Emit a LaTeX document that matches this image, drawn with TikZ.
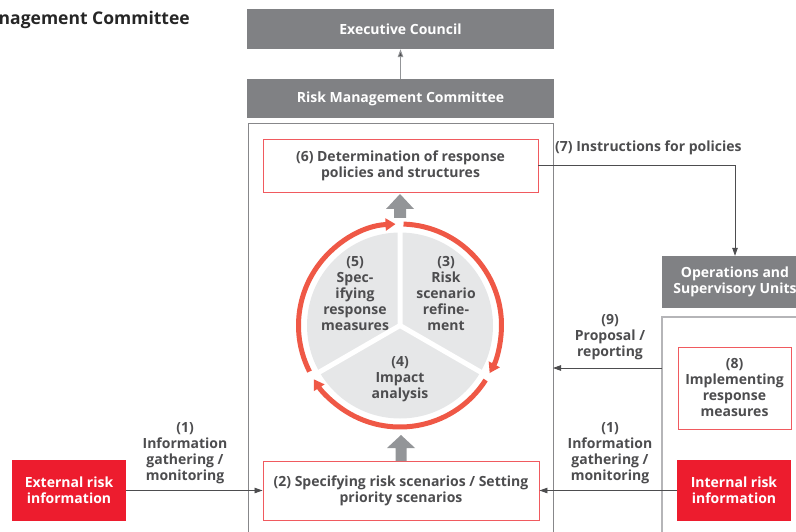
\documentclass[tikz,border=0pt]{standalone}
\usepackage{fontspec}
\setmainfont{Open Sans}
\usetikzlibrary{arrows.meta}
\definecolor{txt}{HTML}{4D4D4F}
\definecolor{boxgray}{HTML}{808184}
\definecolor{rred}{HTML}{ED1C2E}
\definecolor{ringc}{HTML}{EF5846}
\definecolor{wedgec}{HTML}{E6E7E8}
\definecolor{framec}{HTML}{87878A}
\definecolor{rframec}{HTML}{B5B5B8}
\definecolor{bord}{HTML}{F05A5F}
\definecolor{thick}{HTML}{939598}
\begin{document}
\begin{tikzpicture}[x=1pt,y=-1pt,
  fnt/.style={font=\fontsize{14}{16}\selectfont\bfseries},
  lbl/.style={fnt, text=txt, align=center, inner sep=0pt},
  graybox/.style={fnt, fill=boxgray, text=white, align=center, inner sep=0pt},
  redbox/.style={fnt, fill=rred, text=white, align=center, inner sep=0pt},
  linebox/.style={fnt, draw=bord, line width=0.9pt, fill=white, text=txt, align=center, inner sep=0pt},
  conn/.style={draw=txt, line width=0.8pt, -{Triangle[length=8pt,width=5.5pt]}},
  ringarc/.style={draw=ringc, line width=5pt, -{Triangle[length=10pt,width=12pt]}},
  bigarrow/.style={fill=thick, draw=none}
]
\useasboundingbox (0,0) rectangle (796,532);
% title
\node[anchor=east, inner sep=0pt, text=black!85, font=\fontsize{17.5}{20}\selectfont\bfseries] (title) at (190,20) {Risk Management Committee};
% top boxes
\node[graybox, minimum width=307pt, minimum height=40pt] (ec) at (400.5,29) {Executive Council};
\node[graybox, minimum width=307pt, minimum height=39pt] (rmc) at (400.5,98.5) {Risk Management Committee};
\draw[draw=thick, line width=1pt, -{Triangle[length=8pt,width=5.5pt,fill=txt]}] (rmc.north) -- (ec.south);
% main frame
\draw[framec, line width=1pt] (248,124) rectangle (553,545);
% right frame
\draw[rframec, line width=1.3pt] (662,317) rectangle (820,545);
% boxes
\node[linebox, minimum width=275pt, minimum height=53pt] (b6) at (400.5,165.5) {(6) Determination of response\\policies and structures};
\node[linebox, minimum width=276pt, minimum height=59pt] (b2) at (401,490.5) {(2) Specifying risk scenarios / Setting\\priority scenarios};
\node[redbox, minimum width=114pt, minimum height=61pt] (ext) at (69,490.5) {External risk\\information};
\node[redbox, minimum width=114pt, minimum height=61pt] (int) at (734,490.5) {Internal risk\\information};
\node[linebox, minimum width=113pt, minimum height=82pt] (b8) at (734.5,388) {(8)\\Implementing\\response\\measures};
\node[graybox, minimum width=146pt, minimum height=52pt] (ops) at (735,282) {Operations and\\Supervisory Units};
% circle
\begin{scope}[shift={(400,325.5)}, y=1pt]
  \fill[wedgec] (0,0) circle[radius=93];
  \draw[white, line width=5pt] (0,0) -- (90:97) (0,0) -- (210:97) (0,0) -- (330:97);
  \draw[ringarc] (207:101.5) arc[start angle=207, end angle=92.5, radius=101.5];
  \draw[ringarc] (88:101.5) arc[start angle=88, end angle=-28, radius=101.5];
  \draw[ringarc] (-32.5:101.5) arc[start angle=-32.5, end angle=-148, radius=101.5];
\end{scope}
\node[lbl] (t5) at (355,293.5) {(5)\\Spec-\\ifying\\response\\measures};
\node[lbl] (t3) at (446,293.5) {(3)\\Risk\\scenario\\refine-\\ment};
\node[lbl] (t4) at (400,379) {(4)\\Impact\\analysis};
% big gray arrows
\fill[bigarrow] (400,194) -- (414,209) -- (406,209) -- (406,218) -- (394,218) -- (394,209) -- (386,209) -- cycle;
\fill[bigarrow] (401,435) -- (415,448) -- (406.5,448) -- (406.5,461) -- (395.5,461) -- (395.5,448) -- (387,448) -- cycle;
% connectors
\draw[conn] (ext.east) -- (b2.west);
\draw[conn] (int.west) -- (b2.east);
\draw[conn] (b6.east) -- (b6.east -| ops.north) -- (ops.north);
\coordinate (p9a) at (662,368);
\coordinate (p9b) at (553,368);
\draw[conn] (p9a) -- (p9b);
% labels
\node[lbl, anchor=west] (l7) at (555,148) {(7) Instructions for policies};
\node[lbl] (l9) at (610,337) {(9)\\Proposal /\\reporting};
\node[lbl] (l1a) at (185,453) {(1)\\Information\\gathering /\\monitoring};
\node[lbl] (l1b) at (610,453) {(1)\\Information\\gathering /\\monitoring};
\end{tikzpicture}
\end{document}
